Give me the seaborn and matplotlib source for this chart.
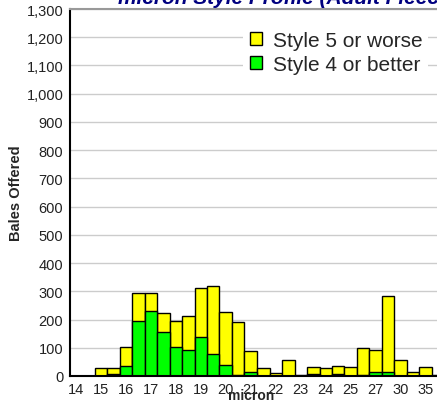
import numpy as np
import pandas as pd
import matplotlib
matplotlib.use("Agg")
import matplotlib.pyplot as plt
import seaborn as sns
from matplotlib.patches import Patch
from matplotlib.ticker import FuncFormatter

# micron bins (every other one gets a label)
microns = ['14', '14.5', '15', '15.5', '16', '16.5', '17', '17.5', '18', '18.5',
           '19', '19.5', '20', '20.5', '21', '21.5', '22', '22.5', '23', '23.5',
           '24', '24.5', '25', '26', '27', '28', '30', '32', '35', '40']
style4 = [0, 0, 0, 7, 37, 195, 231, 156, 102, 93,
          138, 79, 40, 3, 13, 0, 0, 0, 0, 7,
          0, 7, 0, 2, 15, 15, 0, 0, 0, 0]
style5 = [0, 0, 28, 21, 65, 98, 64, 68, 92, 120,
          174, 241, 187, 189, 75, 28, 10, 57, 4, 24,
          28, 30, 31, 98, 78, 270, 57, 13, 31, 3]

df = pd.DataFrame({'micron': microns, 'style4': style4, 'style5': style5})
df['total'] = df['style4'] + df['style5']

sns.set_style("white")
plt.rcParams['font.family'] = ['Liberation Sans', 'DejaVu Sans']

fig = plt.figure(figsize=(4.37, 4.02), dpi=100)
ax = fig.add_axes([69.5 / 437, 25 / 402, 375 / 437, 367 / 402])

sns.barplot(data=df, x='micron', y='total', order=microns, color='#ffff00',
            saturation=1, width=1.0, edgecolor='black', linewidth=1, ax=ax)
sns.barplot(data=df, x='micron', y='style4', order=microns, color='#00ff00',
            saturation=1, width=1.0, edgecolor='black', linewidth=1, ax=ax)

ax.set_xlim(-0.5, len(microns) - 0.5)
ax.set_ylim(0, 1300)
ax.set_yticks(range(0, 1301, 100))
ax.yaxis.set_major_formatter(FuncFormatter(lambda v, p: f"{int(v):,}"))
ax.set_xticks(range(0, len(microns), 2))
ax.set_xticklabels(microns[::2])
ax.tick_params(length=0, labelsize=10.5, pad=4.5, colors='#222222')
ax.set_axisbelow(True)
ax.yaxis.grid(True, color='#cccccc', linewidth=1)
ax.set_xlabel('')
ax.set_ylabel('')

for side in ['left', 'bottom']:
    ax.spines[side].set_color('black')
    ax.spines[side].set_linewidth(1.5)
ax.spines['top'].set_color('#999999')
ax.spines['top'].set_linewidth(1.5)
ax.spines['right'].set_visible(False)

fig.text(15.7 / 437, (402 - 193.5) / 402, 'Bales Offered',
         rotation=90, ha='center', va='center', fontsize=10.5, fontweight='bold')
fig.text(251 / 437, 1.5 / 402, 'micron', ha='center', va='baseline',
         fontsize=10, fontweight='bold')
fig.text(118 / 437, 1 - 4 / 402, 'micron Style Profile (Adult Fleece)',
         ha='left', va='baseline', fontsize=15, fontweight='bold',
         fontstyle='italic', color='#000080')

handles = [Patch(facecolor='#ffff00', edgecolor='black', label='Style 5 or worse'),
           Patch(facecolor='#00ff00', edgecolor='black', label='Style 4 or better')]
leg = fig.legend(handles=handles, loc='upper left',
                 bbox_to_anchor=(233 / 437, 1 - 15 / 402), fontsize=15,
                 frameon=True, fancybox=False, framealpha=1,
                 facecolor='white', edgecolor='none',
                 handlelength=0.6, handleheight=0.6, handletextpad=0.5,
                 labelspacing=0.25, borderpad=0.3)

fig.savefig('out.png', dpi=100)
